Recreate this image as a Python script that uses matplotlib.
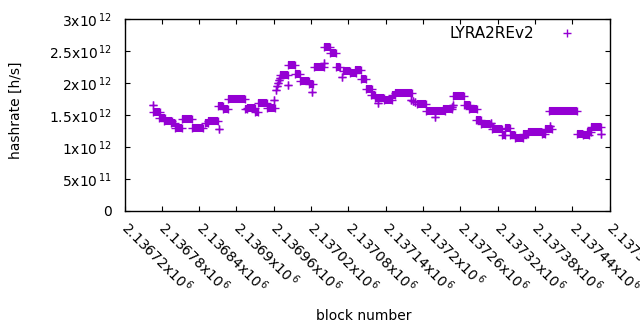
import numpy as np
import matplotlib
matplotlib.use("Agg")
import matplotlib.pyplot as plt

# hashrate plateaus: block range and value (h/s)
seg_start = [2136766, 2136766, 2136776, 2136784, 2136795, 2136801, 2136812, 2136828,
             2136849, 2136855, 2136872, 2136871, 2136879, 2136887, 2136914, 2136917,
             2136930, 2136935, 2136949, 2136961, 2136963, 2136965, 2136967, 2136968,
             2136970, 2136970, 2136983, 2136983, 2136994, 2137002, 2137017, 2137022,
             2137024, 2137041, 2137041, 2137051, 2137060, 2137069, 2137071, 2137082,
             2137091, 2137101, 2137108, 2137116, 2137128, 2137123, 2137137, 2137150,
             2137155, 2137181, 2137184, 2137187, 2137190, 2137205, 2137219, 2137219,
             2137232, 2137247, 2137249, 2137249, 2137266, 2137274, 2137286, 2137294,
             2137309, 2137311, 2137327, 2137332, 2137340, 2137348, 2137361, 2137369,
             2137391, 2137396, 2137405, 2137403, 2137447, 2137458, 2137464, 2137471,
             2137486]
seg_end = [2136766, 2136777, 2136785, 2136796, 2136801, 2136812, 2136828, 2136846,
           2136855, 2136871, 2136872, 2136879, 2136887, 2136914, 2136917, 2136930,
           2136935, 2136949, 2136962, 2136961, 2136963, 2136965, 2136967, 2136968,
           2136970, 2136983, 2136983, 2136994, 2137002, 2137017, 2137023, 2137022,
           2137041, 2137041, 2137051, 2137060, 2137067, 2137069, 2137082, 2137092,
           2137101, 2137108, 2137118, 2137123, 2137128, 2137137, 2137150, 2137155,
           2137183, 2137181, 2137184, 2137187, 2137205, 2137219, 2137219, 2137235,
           2137246, 2137247, 2137249, 2137266, 2137276, 2137287, 2137294, 2137308,
           2137309, 2137327, 2137332, 2137340, 2137348, 2137361, 2137369, 2137391,
           2137396, 2137407, 2137405, 2137448, 2137458, 2137467, 2137471, 2137486,
           2137486]
seg_rate = [1.66e12, 1.54e12, 1.45e12, 1.40e12, 1.37e12, 1.29e12, 1.44e12, 1.30e12,
            1.37e12, 1.41e12, 1.28e12, 1.64e12, 1.60e12, 1.75e12, 1.59e12, 1.61e12,
            1.54e12, 1.68e12, 1.61e12, 1.74e12, 1.89e12, 1.95e12, 2.00e12, 2.05e12,
            2.08e12, 2.13e12, 1.97e12, 2.28e12, 2.14e12, 2.03e12, 1.99e12, 1.86e12,
            2.25e12, 2.32e12, 2.56e12, 2.47e12, 2.25e12, 2.09e12, 2.19e12, 2.15e12,
            2.20e12, 2.06e12, 1.90e12, 1.81e12, 1.69e12, 1.76e12, 1.73e12, 1.81e12,
            1.85e12, 1.74e12, 1.72e12, 1.70e12, 1.67e12, 1.57e12, 1.47e12, 1.56e12,
            1.59e12, 1.62e12, 1.66e12, 1.79e12, 1.66e12, 1.59e12, 1.42e12, 1.36e12,
            1.38e12, 1.28e12, 1.19e12, 1.29e12, 1.19e12, 1.145e12, 1.21e12, 1.23e12,
            1.20e12, 1.28e12, 1.33e12, 1.56e12, 1.21e12, 1.19e12, 1.23e12, 1.32e12,
            1.20e12]

x_ticks = [2136720, 2136780, 2136840, 2136900, 2136960, 2137020, 2137080,
           2137140, 2137200, 2137260, 2137320, 2137380, 2137440, 2137500]
x_mant = ["2.13672", "2.13678", "2.13684", "2.1369", "2.13696", "2.13702", "2.13708",
          "2.13714", "2.1372", "2.13726", "2.13732", "2.13738", "2.13744", "2.1375"]
y_ticks = [0, 5e11, 1e12, 1.5e12, 2e12, 2.5e12, 3e12]
y_mant = ["0", "5", "1", "1.5", "2", "2.5", "3"]
y_exp = [None, 11, 12, 12, 12, 12, 12]

purple = "#9400d3"
ms = 5.8  # marker size in points

plt.rcParams["font.family"] = ["DejaVu Sans"]
plt.rcParams["mathtext.fontset"] = "dejavusans"

fig = plt.figure(figsize=(6.4, 3.3), dpi=100)
ax = fig.add_axes([124.5 / 640, 1 - 211 / 330, 485 / 640, 192 / 330])

# runs of equal values: the crosses overlap into a solid band
ax.hlines(seg_rate, seg_start, seg_end, colors=purple, linewidth=ms, capstyle="butt")
ax.plot(seg_start + seg_end, seg_rate + seg_rate, "+", color=purple,
        markersize=ms, markeredgewidth=1.0, linestyle="none", label="LYRA2REv2")

ax.set_xlim(2136720, 2137500)
ax.set_ylim(0, 3e12)
ax.set_xticks(x_ticks)
ax.set_xticklabels([r"$\mathregular{%sx10^{\,6}}$" % m for m in x_mant])
ax.set_yticks(y_ticks)
ax.set_yticklabels([m if e is None else r"$\mathregular{%sx10^{\,%d}}$" % (m, e)
                    for m, e in zip(y_mant, y_exp)])

ax.tick_params(direction="in", top=True, right=True, length=3.3, width=0.8,
               labelsize=10, colors="black")
ax.tick_params(axis="y", pad=9)
ax.tick_params(axis="x", pad=10)
for lab in ax.get_xticklabels():
    lab.set_rotation(-45)
    lab.set_ha("left")
    lab.set_va("center")
    lab.set_rotation_mode("anchor")

for sp in ax.spines.values():
    sp.set_linewidth(1.0)

ax.set_xlabel("block number", fontsize=10, va="center")
ax.set_ylabel("hashrate [h/s]", fontsize=10, va="center")
ax.xaxis.set_label_coords(0.494, -0.547)
ax.yaxis.set_label_coords(-0.224, 0.526)

ax.legend(loc="upper right", bbox_to_anchor=(0.970, 0.962), frameon=False,
          fontsize=11, handlelength=3.6, handletextpad=0.4, borderpad=0,
          borderaxespad=0, numpoints=1, markerfirst=False)

fig.savefig("out.png", dpi=100)
